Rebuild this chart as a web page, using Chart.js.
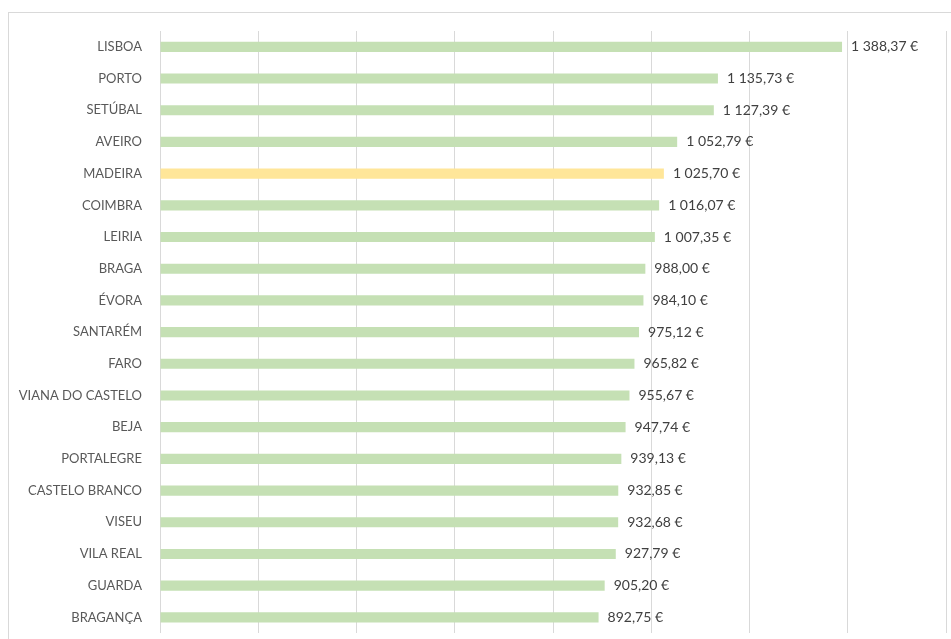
<!DOCTYPE html>
<html>
<head>
<meta charset="utf-8">
<script src="https://cdn.jsdelivr.net/npm/chart.js@4.4.1/dist/chart.umd.min.js"></script>
<style>
  html, body { margin: 0; padding: 0; background: #fff; overflow: hidden; }
  #frame {
    position: absolute; left: 8px; top: 12px; width: 1000px; height: 700px;
    border: 1px solid #d9d9d9; box-sizing: border-box;
  }
  #chart { position: absolute; left: 0; top: 0; }
</style>
</head>
<body>
<div id="frame"></div>
<canvas id="chart" width="951" height="659"></canvas>
<script>
// Districts, sorted from highest to lowest value
const districts = [
  'LISBOA', 'PORTO', 'SETÚBAL', 'AVEIRO', 'MADEIRA', 'COIMBRA', 'LEIRIA',
  'BRAGA', 'ÉVORA', 'SANTARÉM', 'FARO', 'VIANA DO CASTELO', 'BEJA',
  'PORTALEGRE', 'CASTELO BRANCO', 'VISEU', 'VILA REAL', 'GUARDA', 'BRAGANÇA'
];
const values = [
  1388.37, 1135.73, 1127.39, 1052.79, 1025.70, 1016.07, 1007.35,
  988.00, 984.10, 975.12, 965.82, 955.67, 947.74,
  939.13, 932.85, 932.68, 927.79, 905.20, 892.75
];
const highlighted = 'MADEIRA';

const GREEN = '#c5e0b4';
const YELLOW = '#ffe699';

// "1 388,37 €" style formatting
function formatEuro(v) {
  const parts = v.toFixed(2).split('.');
  const intPart = parts[0].replace(/\B(?=(\d{3})+(?!\d))/g, ' ');
  return intPart + ',' + parts[1] + ' €';
}

// Draws the value text just past the end of each bar
const valueLabels = {
  id: 'valueLabels',
  afterDatasetsDraw(chart) {
    const ctx = chart.ctx;
    const meta = chart.getDatasetMeta(0);
    ctx.save();
    ctx.font = '14px Lato, "Open Sans", sans-serif';
    ctx.fillStyle = '#404040';
    ctx.textAlign = 'left';
    ctx.textBaseline = 'middle';
    meta.data.forEach((bar, i) => {
      ctx.fillText(formatEuro(values[i]), bar.x + 9, bar.y);
    });
    ctx.restore();
  }
};

new Chart(document.getElementById('chart').getContext('2d'), {
  type: 'bar',
  data: {
    labels: districts,
    datasets: [{
      data: values,
      backgroundColor: districts.map(d => d === highlighted ? YELLOW : GREEN),
      borderWidth: 0,
      barPercentage: 0.4,
      categoryPercentage: 0.8
    }]
  },
  options: {
    indexAxis: 'y',
    responsive: false,
    animation: false,
    layout: { padding: { top: 31, right: 5, bottom: 7, left: 0 } },
    scales: {
      x: {
        min: 0,
        max: 1600,
        ticks: { display: false, stepSize: 200 },
        grid: { color: '#d9d9d9', lineWidth: 1, drawTicks: false },
        border: { display: false },
        afterFit(scale) { scale.height = 0; }
      },
      y: {
        ticks: {
          color: '#595959',
          font: { family: 'Lato, "Open Sans", sans-serif', size: 13 },
          padding: 18
        },
        grid: { display: false, drawTicks: false },
        border: { display: false },
        afterFit(scale) { scale.width = 160; }
      }
    },
    plugins: {
      legend: { display: false },
      tooltip: { enabled: false }
    }
  },
  plugins: [valueLabels]
});
</script>
</body>
</html>
